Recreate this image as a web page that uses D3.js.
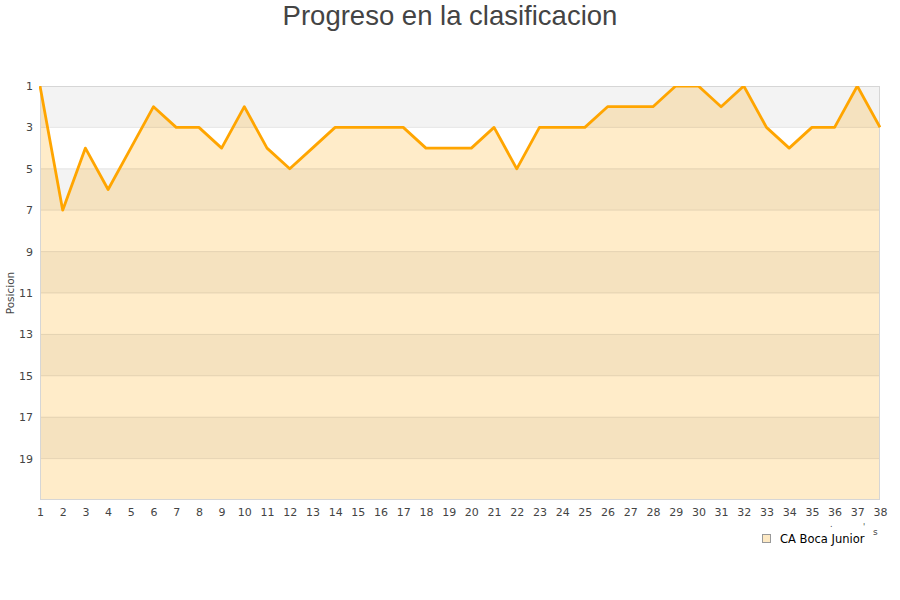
<!DOCTYPE html>
<html>
<head>
<meta charset="utf-8">
<script src="https://cdn.jsdelivr.net/npm/d3@7"></script>
<style>
  body { margin: 0; background: #fff; }
  svg { font-family: "DejaVu Sans", sans-serif; }
</style>
</head>
<body>
<div id="chart"></div>
<script>
"use strict";

// Jornada numbers and the team's league position after each one.
let rounds = d3.range(1, 39);
let positions = [1, 7, 4, 6, 4, 2, 3, 3, 4, 2, 4, 5, 4, 3, 3, 3, 3, 4, 4, 4,
                 3, 5, 3, 3, 3, 2, 2, 2, 1, 1, 2, 1, 3, 4, 3, 3, 1, 3];
let yTicks = [1, 3, 5, 7, 9, 11, 13, 15, 17, 19];
let teamName = "CA Boca Junior";
let chartTitle = "Progreso en la clasificacion";
let yLabel = "Posicion";

let width = 900, height = 600;
let margin = { top: 86, right: 20, bottom: 100, left: 40 };

let svg = d3.select("#chart").append("svg")
  .attr("width", width)
  .attr("height", height);

let x = d3.scaleLinear()
  .domain([1, 38])
  .range([margin.left, width - margin.right]);

let y = d3.scaleLinear()
  .domain([1, 21])
  .range([margin.top, height - margin.bottom]);

// Alternating background bands, two positions each.
let bands = d3.range(1, 21, 2);
svg.selectAll("rect.band")
  .data(bands)
  .enter().append("rect")
  .attr("class", "band")
  .attr("x", x(1))
  .attr("y", d => y(d))
  .attr("width", x(38) - x(1))
  .attr("height", d => y(d + 2) - y(d))
  .style("fill", (d, i) => i % 2 == 0 ? "#f3f3f3" : "#ffffff");

svg.append("clipPath").attr("id", "plotClip")
  .append("rect")
  .attr("x", x(1) - 1)
  .attr("y", y(1))
  .attr("width", x(38) - x(1) + 2)
  .attr("height", y(21) - y(1));

let series = rounds.map((r, i) => ({ round: r, pos: positions[i] }));

let area = d3.area()
  .x(d => x(d.round))
  .y0(y(21))
  .y1(d => y(d.pos));

svg.append("path")
  .datum(series)
  .attr("d", area)
  .style("fill", "#ffa500")
  .style("fill-opacity", 0.21);

// Grid lines on top of the fill.
svg.selectAll("line.grid")
  .data(yTicks.slice(1))
  .enter().append("line")
  .attr("class", "grid")
  .attr("x1", x(1))
  .attr("x2", x(38))
  .attr("y1", d => y(d))
  .attr("y2", d => y(d))
  .style("stroke", "#000")
  .style("stroke-opacity", 0.09)
  .style("stroke-width", 1);

// Plot frame.
svg.append("rect")
  .attr("x", x(1) + 0.5)
  .attr("y", y(1) + 0.5)
  .attr("width", x(38) - x(1) - 1)
  .attr("height", y(21) - y(1) - 1)
  .style("fill", "none")
  .style("stroke", "#d6d6d6")
  .style("stroke-width", 1);

let line = d3.line()
  .x(d => x(d.round))
  .y(d => y(d.pos));

svg.append("path")
  .datum(series)
  .attr("d", line)
  .attr("clip-path", "url(#plotClip)")
  .style("fill", "none")
  .style("stroke", "#ffa500")
  .style("stroke-width", 2.8)
  .style("stroke-linejoin", "round");

// Axes, drawn without domain lines or ticks.
let yAxis = svg.append("g")
  .attr("transform", `translate(${margin.left - 7},0)`)
  .call(d3.axisLeft(y).tickValues(yTicks).tickSize(0).tickPadding(0));
yAxis.select(".domain").remove();
yAxis.selectAll("text")
  .style("font-family", "DejaVu Sans, sans-serif")
  .style("font-size", "11px")
  .style("fill", "#444");

let xAxis = svg.append("g")
  .attr("transform", `translate(0,${y(21) + 8})`)
  .call(d3.axisBottom(x).tickValues(rounds).tickFormat(d3.format("d")).tickSize(0).tickPadding(0));
xAxis.select(".domain").remove();
xAxis.selectAll("text")
  .style("font-family", "DejaVu Sans, sans-serif")
  .style("font-size", "11px")
  .style("fill", "#444");

svg.append("text")
  .attr("transform", `translate(14,${(y(1) + y(21)) / 2}) rotate(-90)`)
  .attr("text-anchor", "middle")
  .style("font-size", "10.5px")
  .style("fill", "#444")
  .text(yLabel);

svg.append("text")
  .attr("x", width / 2)
  .attr("y", 25)
  .attr("text-anchor", "middle")
  .style("font-family", "Liberation Sans, Arial, sans-serif")
  .style("font-size", "27.5px")
  .style("fill", "#444")
  .text(chartTitle);

// Legend.
let legend = svg.append("g").attr("transform", "translate(762,534)");
legend.append("rect")
  .attr("x", 0.5)
  .attr("y", 0.5)
  .attr("width", 8)
  .attr("height", 8)
  .style("fill", "#fde9c4")
  .style("stroke", "#999");
legend.append("text")
  .attr("x", 18)
  .attr("y", 8.5)
  .style("font-size", "11.5px")
  .style("fill", "#000")
  .text(teamName);

// Clipped leftovers of the x axis title.
svg.append("text").attr("x", 830).attr("y", 527).style("font-size", "8px").style("fill", "#444").text(".");
svg.append("text").attr("x", 863).attr("y", 530).style("font-size", "8px").style("fill", "#444").text("'");
svg.append("text").attr("x", 873).attr("y", 535).style("font-size", "9px").style("fill", "#444").text("s");
</script>
</body>
</html>
